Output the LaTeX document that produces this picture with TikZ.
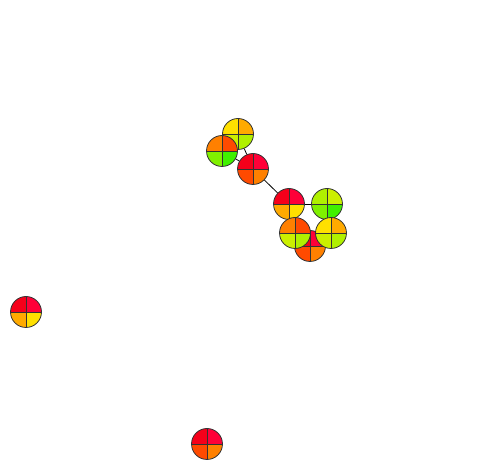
\documentclass[tikz,border=0pt]{standalone}
\usepackage{xcolor}
\usepackage{tikz}
\usetikzlibrary{backgrounds}
\definecolor{pieRed}{HTML}{F5001A}
\definecolor{pieRose}{HTML}{FF0038}
\definecolor{pieVermil}{HTML}{FF4A00}
\definecolor{pieOrange}{HTML}{FF8000}
\definecolor{pieAmber}{HTML}{FFAA00}
\definecolor{pieYellow}{HTML}{FFE000}
\definecolor{pieChart}{HTML}{CCF000}
\definecolor{pieLime}{HTML}{B0F000}
\definecolor{pieGreen}{HTML}{80F000}
\definecolor{pieLeaf}{HTML}{40F000}

\begin{document}
\begin{tikzpicture}[x=1pt, y=-1pt,
  pie/.style n args={4}{circle, draw=black!80, line width=0.8pt, minimum size=31pt, inner sep=0pt,
    path picture={
      \fill[#1] (path picture bounding box.center) rectangle (path picture bounding box.north west);
      \fill[#2] (path picture bounding box.center) rectangle (path picture bounding box.north east);
      \fill[#3] (path picture bounding box.center) rectangle (path picture bounding box.south west);
      \fill[#4] (path picture bounding box.center) rectangle (path picture bounding box.south east);
      \draw[black!80, line width=0.8pt] (path picture bounding box.north) -- (path picture bounding box.south)
        (path picture bounding box.west) -- (path picture bounding box.east);
    }},
  link/.style={draw=black, line width=0.8pt}
]
\useasboundingbox (0,0) rectangle (483,470);

\node[pie={pieYellow}{pieAmber}{pieChart}{pieLime}] (a) at (238,134) {};
\node[pie={pieOrange}{pieVermil}{pieGreen}{pieLeaf}] (b) at (222,151) {};
\node[pie={pieRed}{pieRose}{pieVermil}{pieOrange}] (c) at (253,169) {};
\node[pie={pieRed}{pieRose}{pieAmber}{pieYellow}] (d) at (289,204) {};
\node[pie={pieLime}{pieChart}{pieGreen}{pieLeaf}] (e) at (327,204) {};
\node[pie={pieRed}{pieRose}{pieVermil}{pieOrange}] (f) at (310,246) {};
\node[pie={pieOrange}{pieVermil}{pieChart}{pieLime}] (g) at (295,233) {};
\node[pie={pieYellow}{pieAmber}{pieChart}{pieLime}] (h) at (331,233) {};
\node[pie={pieRed}{pieRose}{pieAmber}{pieYellow}] (i) at (26,312) {};
\node[pie={pieRed}{pieRose}{pieVermil}{pieOrange}] (j) at (207,444) {};

\begin{scope}[on background layer]
\draw[link] (a) -- (c);
\draw[link] (b) -- (c);
\draw[link] (c) -- (d);
\draw[link] (d) -- (e);
\draw[link] (d) -- (f);
\end{scope}
\end{tikzpicture}
\end{document}
